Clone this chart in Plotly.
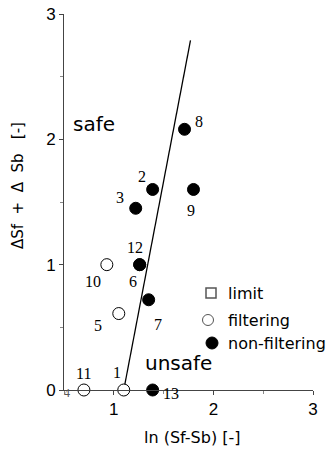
import plotly.graph_objects as go

# ---- data ----
nonfilt_ids = ["2", "3", "6", "7", "8", "9", "12", "13"]
nonfilt_x = [1.39, 1.22, 1.26, 1.35, 1.71, 1.80, 1.26, 1.39]
nonfilt_y = [1.60, 1.45, 1.00, 0.72, 2.08, 1.60, 1.00, 0.00]

filt_ids = ["1", "5", "10", "11"]
filt_x = [1.10, 1.05, 0.93, 0.70]
filt_y = [0.00, 0.61, 1.00, 0.00]

limit_ids = ["4"]
limit_x = [0.50]
limit_y = [0.00]

boundary_x = [1.10, 1.77]
boundary_y = [0.00, 2.79]

x_ticks = [1, 2, 3]
y_ticks = [0, 1, 2, 3]

legend_names = ["limit", "filtering", "non-filtering"]

# label offsets in pixels (dx, dy up)
label_offsets = {
    "1": (-7, 18), "2": (-11, 13), "3": (-16, 11), "4": (3, -3),
    "5": (-21, -12), "6": (-7, -17), "7": (9, -25), "8": (14, 8),
    "9": (-2, -21), "10": (-14, -17), "11": (0, 17), "12": (-5, 17),
    "13": (18, -3),
}

SANS = "DejaVu Sans"
W, H = 327, 452
ML, MR, MT, MB = 64, 14, 14, 62
PW, PH = W - ML - MR, H - MT - MB


def px2paper(px, py):
    return (px - ML) / PW, (H - MB - py) / PH


fig = go.Figure()

fig.add_trace(go.Scatter(x=boundary_x, y=boundary_y, mode="lines",
                         line=dict(color="black", width=1.3), showlegend=False,
                         cliponaxis=False, hoverinfo="skip"))
fig.add_trace(go.Scatter(x=filt_x, y=filt_y, mode="markers", name="filtering",
                         marker=dict(symbol="circle", size=12, color="white",
                                     line=dict(color="black", width=1)),
                         cliponaxis=False, showlegend=False))
fig.add_trace(go.Scatter(x=nonfilt_x, y=nonfilt_y, mode="markers", name="non-filtering",
                         marker=dict(symbol="circle", size=12, color="black",
                                     line=dict(color="black", width=1)),
                         cliponaxis=False, showlegend=False))

annotations = []
all_pts = list(zip(nonfilt_ids, nonfilt_x, nonfilt_y)) + \
    list(zip(filt_ids, filt_x, filt_y)) + list(zip(limit_ids, limit_x, limit_y))
for lid, px, py in all_pts:
    dx, dy = label_offsets[lid]
    annotations.append(dict(
        x=px, y=py, xref="x", yref="y", text=lid, showarrow=False,
        xshift=dx, yshift=dy, xanchor="center", yanchor="middle",
        font=dict(family="Liberation Serif", size=12 if lid == "4" else 16,
                  color="#555555" if lid == "4" else "black")))

NB = "\u00a0"
ytitle = "ΔSf" + NB * 2 + "+" + NB * 2 + "Δ" + NB * 2 + "Sb" + NB * 3 + "[-]"

sx, sy = px2paper(93.5, 124)
ux, uy = px2paper(178, 363)
tx, ty = px2paper(18, 186)
bx, by = px2paper(192, 437)
annotations += [
    dict(x=sx, y=sy, xref="paper", yref="paper", text="safe", showarrow=False,
         xanchor="center", yanchor="middle",
         font=dict(family=SANS, size=20, color="black")),
    dict(x=ux, y=uy, xref="paper", yref="paper", text="unsafe", showarrow=False,
         xanchor="center", yanchor="middle",
         font=dict(family=SANS, size=20, color="black")),
    dict(x=tx, y=ty, xref="paper", yref="paper", text=ytitle,
         textangle=-90, showarrow=False, xanchor="center", yanchor="middle",
         font=dict(family=SANS, size=15, color="black")),
    dict(x=bx, y=by, xref="paper", yref="paper", text="ln (Sf-Sb) [-]",
         showarrow=False, xanchor="center", yanchor="middle",
         font=dict(family=SANS, size=16, color="black")),
]

# manual legend
shapes = []
leg_sym_px = [(211, 293), (208, 320), (212, 343)]
leg_sym_style = [
    dict(type="rect", r=5, line=dict(color="#555555", width=1.5), fillcolor="white"),
    dict(type="circle", r=5.5, line=dict(color="#555555", width=1), fillcolor="white"),
    dict(type="circle", r=6, line=dict(color="black", width=1), fillcolor="black"),
]
for name, (px, py), st in zip(legend_names, leg_sym_px, leg_sym_style):
    ax, ay = px2paper(px, py)
    r = st["r"]
    shapes.append(dict(type=st["type"], xref="paper", yref="paper",
                       xsizemode="pixel", ysizemode="pixel", xanchor=ax, yanchor=ay,
                       x0=-r, x1=r, y0=-r, y1=r, line=st["line"],
                       fillcolor=st["fillcolor"]))
    lx, ly = px2paper(226, py)
    annotations.append(dict(x=lx, y=ly, xref="paper", yref="paper", text=name,
                            showarrow=False, xanchor="left", yanchor="middle",
                            font=dict(family=SANS, size=16, color="black")))

axis_common = dict(showgrid=False, zeroline=False, showline=True, linecolor="#444444",
                   linewidth=1, ticks="outside", ticklen=4, tickcolor="#444444",
                   tickfont=dict(family="Liberation Sans", size=17, color="black"),
                   minor=dict(ticks="outside", ticklen=3, dtick=0.5, tickcolor="#888888"))

fig.update_layout(
    width=W, height=H,
    margin=dict(l=ML, r=MR, t=MT, b=MB, autoexpand=False),
    plot_bgcolor="white", paper_bgcolor="white",
    showlegend=False,
    xaxis=dict(range=[0.5, 3], tickvals=x_ticks, **axis_common),
    yaxis=dict(range=[0, 3], tickvals=y_ticks, **axis_common),
    annotations=annotations,
    shapes=shapes,
)

fig.write_html("out.html")
